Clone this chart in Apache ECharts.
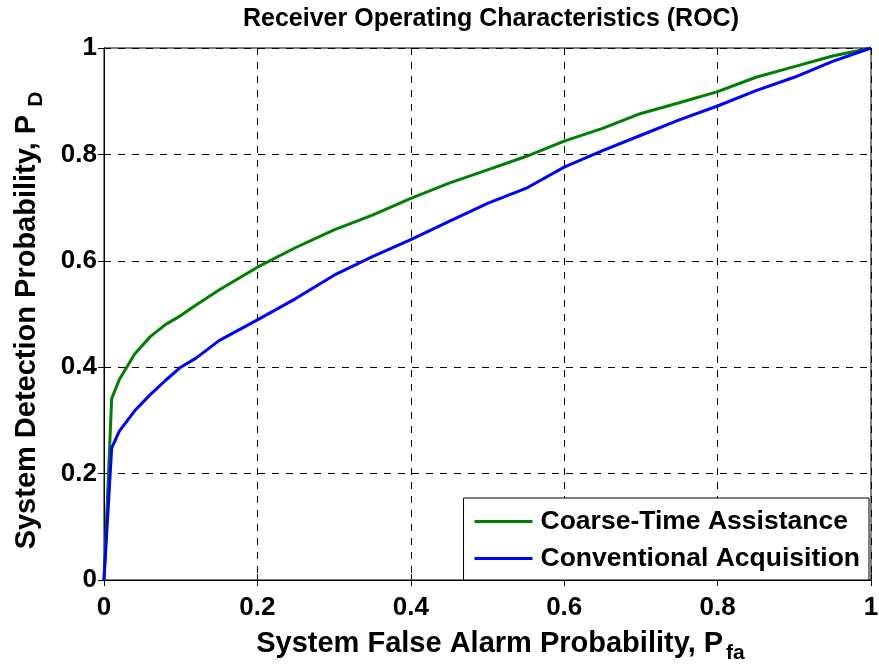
<!DOCTYPE html>
<html>
<head>
<meta charset="utf-8">
<script src="https://cdn.jsdelivr.net/npm/echarts@6/dist/echarts.min.js"></script>
<style>
  html, body { margin: 0; padding: 0; background: #fff; }
  #chart { width: 879px; height: 666px; }
</style>
</head>
<body>
<div id="chart"></div>
<script>
// False-alarm probabilities shared by both curves
const falseAlarm = [0, 0.01, 0.02, 0.04, 0.06, 0.08, 0.1, 0.12, 0.15, 0.2, 0.25, 0.3, 0.35, 0.4,
  0.45, 0.5, 0.55, 0.6, 0.65, 0.7, 0.75, 0.8, 0.85, 0.9, 0.95, 1];
// Detection probability, coarse-time assisted acquisition
const coarseTime = [0, 0.341, 0.377, 0.425, 0.457, 0.48, 0.497, 0.517, 0.545, 0.588, 0.625, 0.658,
  0.686, 0.7175, 0.746, 0.771, 0.796, 0.825, 0.849, 0.877, 0.897, 0.918, 0.945, 0.965, 0.985, 1];
// Detection probability, conventional acquisition
const conventional = [0, 0.248, 0.28, 0.318, 0.348, 0.375, 0.40, 0.417, 0.45, 0.489, 0.529, 0.573,
  0.608, 0.640, 0.674, 0.708, 0.736, 0.776, 0.807, 0.836, 0.865, 0.891, 0.92, 0.945, 0.975, 1];

const seriesNames = ['Coarse-Time Assistance', 'Conventional Acquisition'];

const pairs = ys => falseAlarm.map((x, i) => [x, ys[i]]);
const FONT = 'Arial, "Liberation Sans", Helvetica, sans-serif';

const chart = echarts.init(document.getElementById('chart'));

// top / right axes only carry the inward tick marks of the box
const tickSide = {
  type: 'value', min: 0, max: 1, interval: 0.2,
  axisLine: { show: true, lineStyle: { color: '#000', width: 1 } },
  axisTick: { show: true, inside: true, length: 6, lineStyle: { color: '#000' } },
  axisLabel: { show: false },
  splitLine: { show: false }
};

const tickLabel = { fontFamily: FONT, fontWeight: 'bold', fontSize: 26, color: '#000' };
const nameMain = { fontFamily: FONT, fontWeight: 'bold', fontSize: 29, color: '#000' };
const nameSub = { fontFamily: FONT, fontWeight: 'bold', fontSize: 21, color: '#000' };

chart.setOption({
  animation: false,
  backgroundColor: '#fff',
  title: {
    text: 'Receiver Operating Characteristics (ROC)',
    left: 486, top: 2, textAlign: 'center',
    textStyle: { fontFamily: FONT, fontWeight: 'bold', fontSize: 25, color: '#000' }
  },
  grid: {
    left: 104, right: 8, top: 48, bottom: 86,
    outerBoundsMode: 'none', containLabel: false,
    show: true, borderColor: '#000', borderWidth: 1
  },
  legend: {
    right: 10, bottom: 86,
    orient: 'vertical',
    backgroundColor: '#fff',
    borderColor: '#000', borderWidth: 1, borderRadius: 0,
    padding: [10, 9, 8, 11],
    itemWidth: 58, itemHeight: 3, itemGap: 10,
    icon: 'rect',
    textStyle: { fontFamily: FONT, fontWeight: 'bold', fontSize: 26.5, color: '#000', padding: [0, 0, 0, 3] },
    data: seriesNames
  },
  xAxis: [{
    type: 'value', min: 0, max: 1, interval: 0.2,
    name: '{m|System False Alarm Probability, P}{s|fa}',
    nameLocation: 'middle', nameGap: 43,
    nameTextStyle: {
      rich: {
        m: Object.assign({ padding: [0, 0, 0, 26] }, nameMain),
        s: Object.assign({ padding: [20, 0, 0, 3] }, nameSub)
      }
    },
    axisLine: { show: true, lineStyle: { color: '#000', width: 1 } },
    axisTick: { show: true, inside: true, length: 6, lineStyle: { color: '#000' } },
    axisLabel: Object.assign({ margin: 15 }, tickLabel),
    splitLine: { show: true, lineStyle: { color: '#000', type: [7, 7], width: 1 } }
  }, Object.assign({ position: 'top' }, tickSide)],
  yAxis: [{
    type: 'value', min: 0, max: 1, interval: 0.2,
    name: '{m|System Detection Probability, P}{s|D}',
    nameLocation: 'middle', nameGap: 57,
    nameTextStyle: {
      rich: {
        m: nameMain,
        s: Object.assign({ padding: [20, 13, 0, 8] }, nameSub)
      }
    },
    axisLine: { show: true, lineStyle: { color: '#000', width: 1 } },
    axisTick: { show: true, inside: true, length: 6, lineStyle: { color: '#000' } },
    axisLabel: Object.assign({ margin: 7 }, tickLabel),
    splitLine: { show: true, lineStyle: { color: '#000', type: [7, 7], width: 1 } }
  }, Object.assign({ position: 'right' }, tickSide)],
  series: [
    {
      name: seriesNames[0], type: 'line', data: pairs(coarseTime),
      showSymbol: false, symbol: 'none', smooth: false,
      lineStyle: { color: '#008000', width: 3 }, itemStyle: { color: '#008000' }
    },
    {
      name: seriesNames[1], type: 'line', data: pairs(conventional),
      showSymbol: false, symbol: 'none', smooth: false,
      lineStyle: { color: '#0000ff', width: 3 }, itemStyle: { color: '#0000ff' }
    }
  ]
});
</script>
</body>
</html>
